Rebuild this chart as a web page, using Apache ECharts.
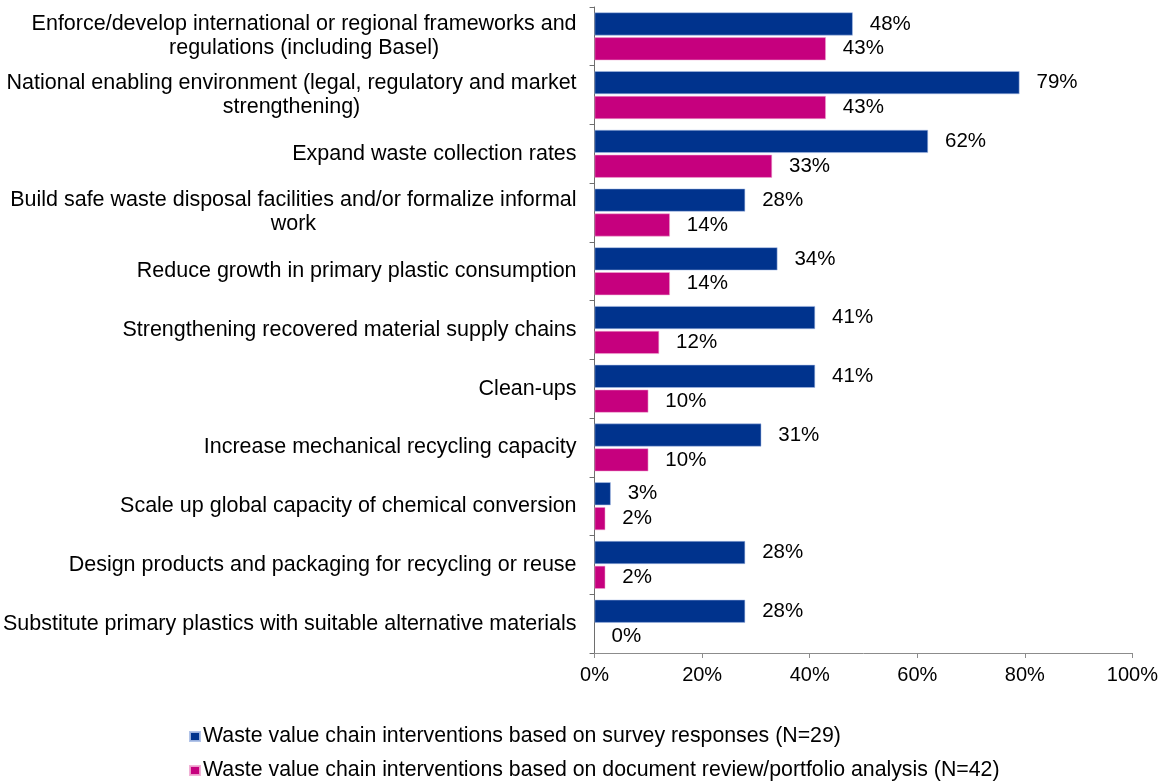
<!DOCTYPE html>
<html>
<head>
<meta charset="utf-8">
<script src="https://cdn.jsdelivr.net/npm/echarts@6/dist/echarts.min.js"></script>
<style>
  html, body { margin: 0; padding: 0; background: #fff; }
  #chart { width: 1161px; height: 783px; }
</style>
</head>
<body>
<div id="chart"></div>
<script>
// Intervention categories, top to bottom
const categories = [
  'Enforce/develop international or regional frameworks and regulations (including Basel)',
  'National enabling environment (legal, regulatory and market strengthening)',
  'Expand waste collection rates',
  'Build safe waste disposal facilities and/or formalize informal work',
  'Reduce growth in primary plastic consumption',
  'Strengthening recovered material supply chains',
  'Clean-ups',
  'Increase mechanical recycling capacity',
  'Scale up global capacity of chemical conversion',
  'Design products and packaging for recycling or reuse',
  'Substitute primary plastics with suitable alternative materials'
];

// Share of interventions (%)
const surveyValues = [48, 79, 62, 28, 34, 41, 41, 31, 3, 28, 28];
const documentValues = [43, 43, 33, 14, 14, 12, 10, 10, 2, 2, 0];

const seriesNames = [
  'Waste value chain interventions based on survey responses (N=29)',
  'Waste value chain interventions based on document review/portfolio analysis (N=42)'
];

const xTicks = [0, 20, 40, 60, 80, 100];

const FONT = '"Liberation Sans", Arial, sans-serif';
const CAT_SIZE = 21.5;
const VAL_SIZE = 20.5;
const AXIS_SIZE = 20;
const LEGEND_SIZE = 21.3;
const WRAP_WIDTH = 578;

// Greedy word wrap using real text metrics
const measureCtx = document.createElement('canvas').getContext('2d');
function wrapLabel(text, size, maxWidth) {
  measureCtx.font = size + 'px ' + FONT;
  const words = text.split(' ');
  const lines = [];
  let line = '';
  words.forEach(w => {
    const trial = line ? line + ' ' + w : w;
    if (line && measureCtx.measureText(trial).width > maxWidth) {
      lines.push(line);
      line = w;
    } else {
      line = trial;
    }
  });
  if (line) lines.push(line);
  return lines;
}

// Bars get a thin light outline, except zero-length ones
function barData(values) {
  return values.map(v => (v === 0 ? { value: v, itemStyle: { borderWidth: 0 } } : v));
}

const chart = echarts.init(document.getElementById('chart'), null, { renderer: 'canvas' });

const barLabel = {
  show: true,
  position: 'right',
  distance: 17,
  color: '#000',
  fontFamily: FONT,
  fontSize: VAL_SIZE,
  formatter: p => p.value + '%'
};

// One legend block per series, stacked vertically
function legendBlock(name, top) {
  return {
    left: 184,
    top: top,
    itemWidth: 10,
    itemHeight: 9,
    itemGap: 0,
    icon: 'rect',
    selectedMode: false,
    textStyle: { fontFamily: FONT, fontSize: LEGEND_SIZE, color: '#000', padding: [0, 0, 0, -2] },
    data: [name]
  };
}

chart.setOption({
  animation: false,
  backgroundColor: '#fff',
  textStyle: { fontFamily: FONT },
  grid: { left: 592, right: 28, top: 7, bottom: 130, containLabel: false },
  xAxis: {
    type: 'value',
    min: xTicks[0],
    max: xTicks[xTicks.length - 1],
    interval: xTicks[1] - xTicks[0],
    axisLine: { show: true, lineStyle: { color: '#8c8c8c', width: 1 } },
    axisTick: { show: true, length: 5, lineStyle: { color: '#8c8c8c' } },
    splitLine: { show: false },
    axisLabel: {
      color: '#000',
      fontFamily: FONT,
      fontSize: AXIS_SIZE,
      margin: 12,
      formatter: v => v + '%'
    }
  },
  yAxis: {
    type: 'category',
    inverse: true,
    data: categories,
    axisLine: { show: true, lineStyle: { color: '#6e6e6e', width: 1 } },
    axisTick: { show: true, length: 5, inside: false, lineStyle: { color: '#6e6e6e' } },
    axisLabel: {
      margin: 18,
      color: '#000',
      fontFamily: FONT,
      fontSize: CAT_SIZE,
      lineHeight: 24,
      formatter: v => wrapLabel(v, CAT_SIZE, WRAP_WIDTH).map(l => '{c|' + l + '}').join('\n'),
      rich: {
        c: { align: 'center', fontFamily: FONT, fontSize: CAT_SIZE, lineHeight: 24, color: '#000' }
      }
    }
  },
  legend: [legendBlock(seriesNames[0], 721), legendBlock(seriesNames[1], 755)],
  series: [
    {
      name: seriesNames[0],
      type: 'bar',
      data: barData(surveyValues),
      barWidth: 23,
      barGap: '8%',
      itemStyle: { color: '#00338D', borderColor: 'rgba(170,190,230,0.9)', borderWidth: 0.6 },
      label: barLabel
    },
    {
      name: seriesNames[1],
      type: 'bar',
      data: barData(documentValues),
      barWidth: 23,
      itemStyle: { color: '#C6007E', borderColor: 'rgba(240,170,210,0.9)', borderWidth: 0.6 },
      label: barLabel
    }
  ]
});
</script>
</body>
</html>
